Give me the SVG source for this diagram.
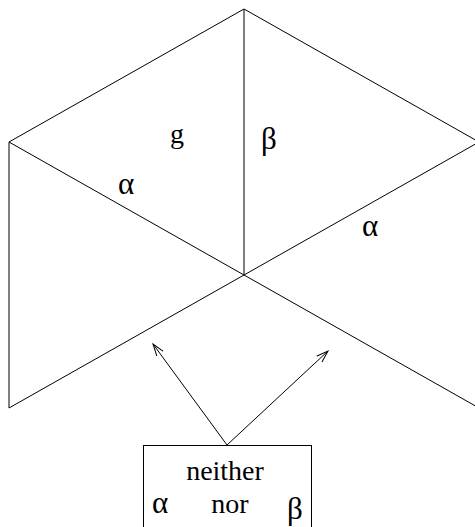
<svg xmlns="http://www.w3.org/2000/svg" width="475" height="527" viewBox="0 0 475 527">
<defs>
<style>
.ln{stroke:#000;stroke-width:1;fill:none}
.t{font-family:"Liberation Serif","Times New Roman",serif;font-size:28px;fill:#000}
.g{font-size:31px}
</style>
<marker id="ah" markerWidth="14" markerHeight="10" refX="12" refY="5" orient="auto" markerUnits="userSpaceOnUse">
<path d="M0,1 L12,5 L0,9" fill="none" stroke="#000" stroke-width="1"/>
</marker>
</defs>
<rect width="475" height="527" fill="#fff"/>
<g id="figure">
<path class="ln" d="M9,142 L244,9 L479,142"/>
<path class="ln" d="M244,9 L244,275"/>
<path class="ln" d="M9,142 L244,275 L479,142"/>
<path class="ln" d="M9,142 L9,408 L244,275 L479,408"/>
<text class="t" x="170" y="143">g</text>
<text class="t g" x="261" y="149">β</text>
<text class="t g" x="118" y="194">α</text>
<text class="t g" x="362" y="236">α</text>
</g>
<g id="box">
<rect class="ln" x="143.5" y="445.5" width="168" height="100"/>
<text class="t" x="225" y="480" text-anchor="middle">neither</text>
<text class="t g" x="152" y="513">α</text>
<text class="t" x="230" y="513" text-anchor="middle">nor</text>
<text class="t g" x="287" y="519">β</text>
</g>
<g id="connectors">
<line class="ln" x1="227" y1="445" x2="153" y2="344" marker-end="url(#ah)"/>
<line class="ln" x1="227" y1="445" x2="328" y2="351" marker-end="url(#ah)"/>
</g>
</svg>
